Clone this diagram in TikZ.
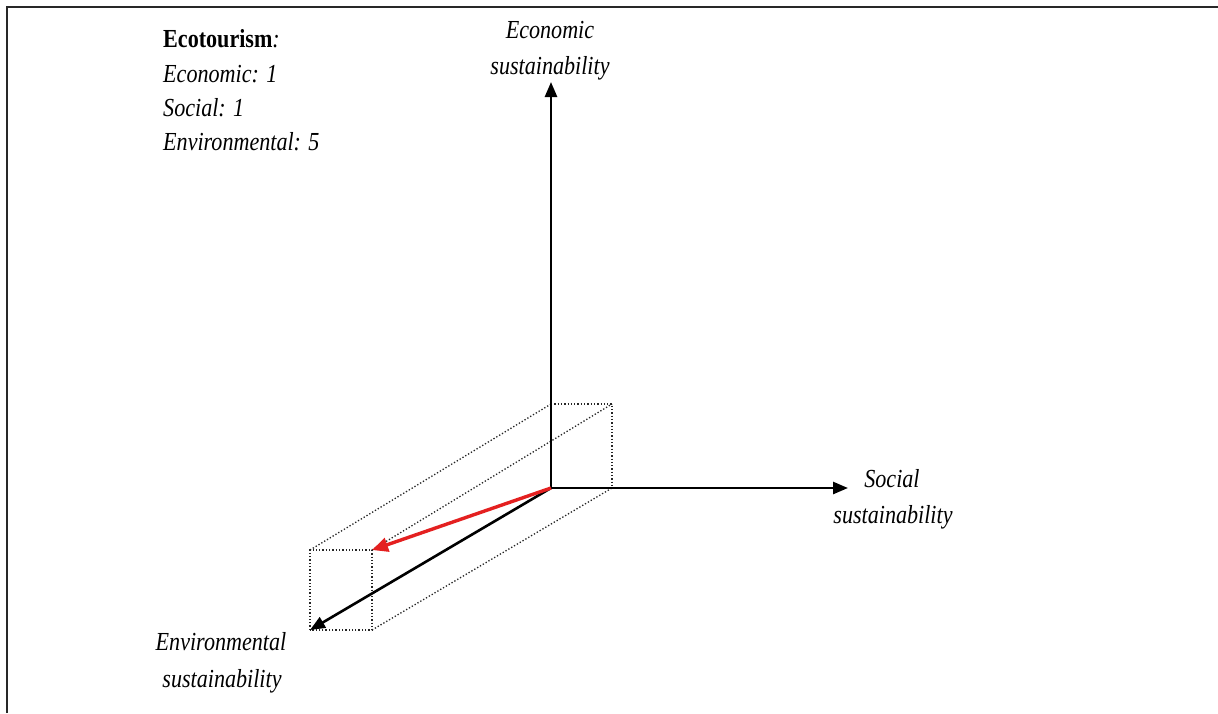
\documentclass[tikz,border=0pt]{standalone}
\usepackage{fontspec}
\setmainfont{Liberation Serif}[FakeStretch=0.85]
\usetikzlibrary{arrows.meta}
\definecolor{axisred}{RGB}{228,32,32}
\definecolor{framegray}{RGB}{40,40,40}
\tikzset{
  axis/.style={line width=2.6pt, black, -{Triangle[length=15pt,width=12pt]}},
  redarrow/.style={line width=3.4pt, axisred, -{Triangle[length=16pt,width=14pt]}},
  boxline/.style={line width=1.3pt, black!85, dotted},
  lbl/.style={anchor=base, inner sep=0pt, font=\fontsize{26}{36}\selectfont\itshape},
  lbll/.style={anchor=base west, inner sep=0pt, font=\fontsize{26}{36}\selectfont\itshape},
  frameline/.style={line width=2.2pt, framegray}
}
\begin{document}
\begin{tikzpicture}[x=1pt,y=-1pt]
\useasboundingbox (0,0) rectangle (1218,713);
\fill[white] (0,0) rectangle (1218,713);
% frame (top and left edges)
\coordinate (fa) at (7,713);
\coordinate (fb) at (7,7);
\coordinate (fc) at (1218,7);
\draw[frameline] (fa) -- (fb) -- (fc);
% axes end points
\coordinate (O) at (551,488);
\coordinate (Ytip) at (551,82);
\coordinate (Xtip) at (848,488);
% box corners
\coordinate (A) at (310,550);
\coordinate (B) at (372,550);
\coordinate (C) at (372,630);
\coordinate (D) at (310,630);
\coordinate (E) at (551,404);
\coordinate (F) at (612,404);
\coordinate (G) at (612,488);
% dotted box
\draw[boxline] (D) -- (A) -- (B) -- (C) -- (D);
\draw[boxline] (E) -- (F) -- (G) -- (O);
\draw[boxline] (A) -- (E);
\draw[boxline] (B) -- (F);
\draw[boxline] (C) -- (G);
% axes
\draw[axis] (O) -- (Ytip);
\draw[axis] (O) -- (Xtip);
\draw[axis] (O) -- (D);
% red vector
\draw[redarrow] (O) -- (B);
% labels
\node[lbl] (ecoA) at (550,38) {Economic};
\node[lbl] (ecoB) at (550,74) {sustainability};
\node[lbl] (socA) at (892,487) {Social};
\node[lbl] (socB) at (893,523) {sustainability};
\node[lbl] (envA) at (221,650) {Environmental};
\node[lbl] (envB) at (222,687) {sustainability};
% legend
\node[lbll] (legA) at (163,47) {\upshape\textbf{Ecotourism}\textit{:}};
\node[lbll] (legB) at (163,82) {Economic: 1};
\node[lbll] (legC) at (163,116) {Social: 1};
\node[lbll] (legD) at (163,150) {Environmental: 5};
\end{tikzpicture}
\end{document}
